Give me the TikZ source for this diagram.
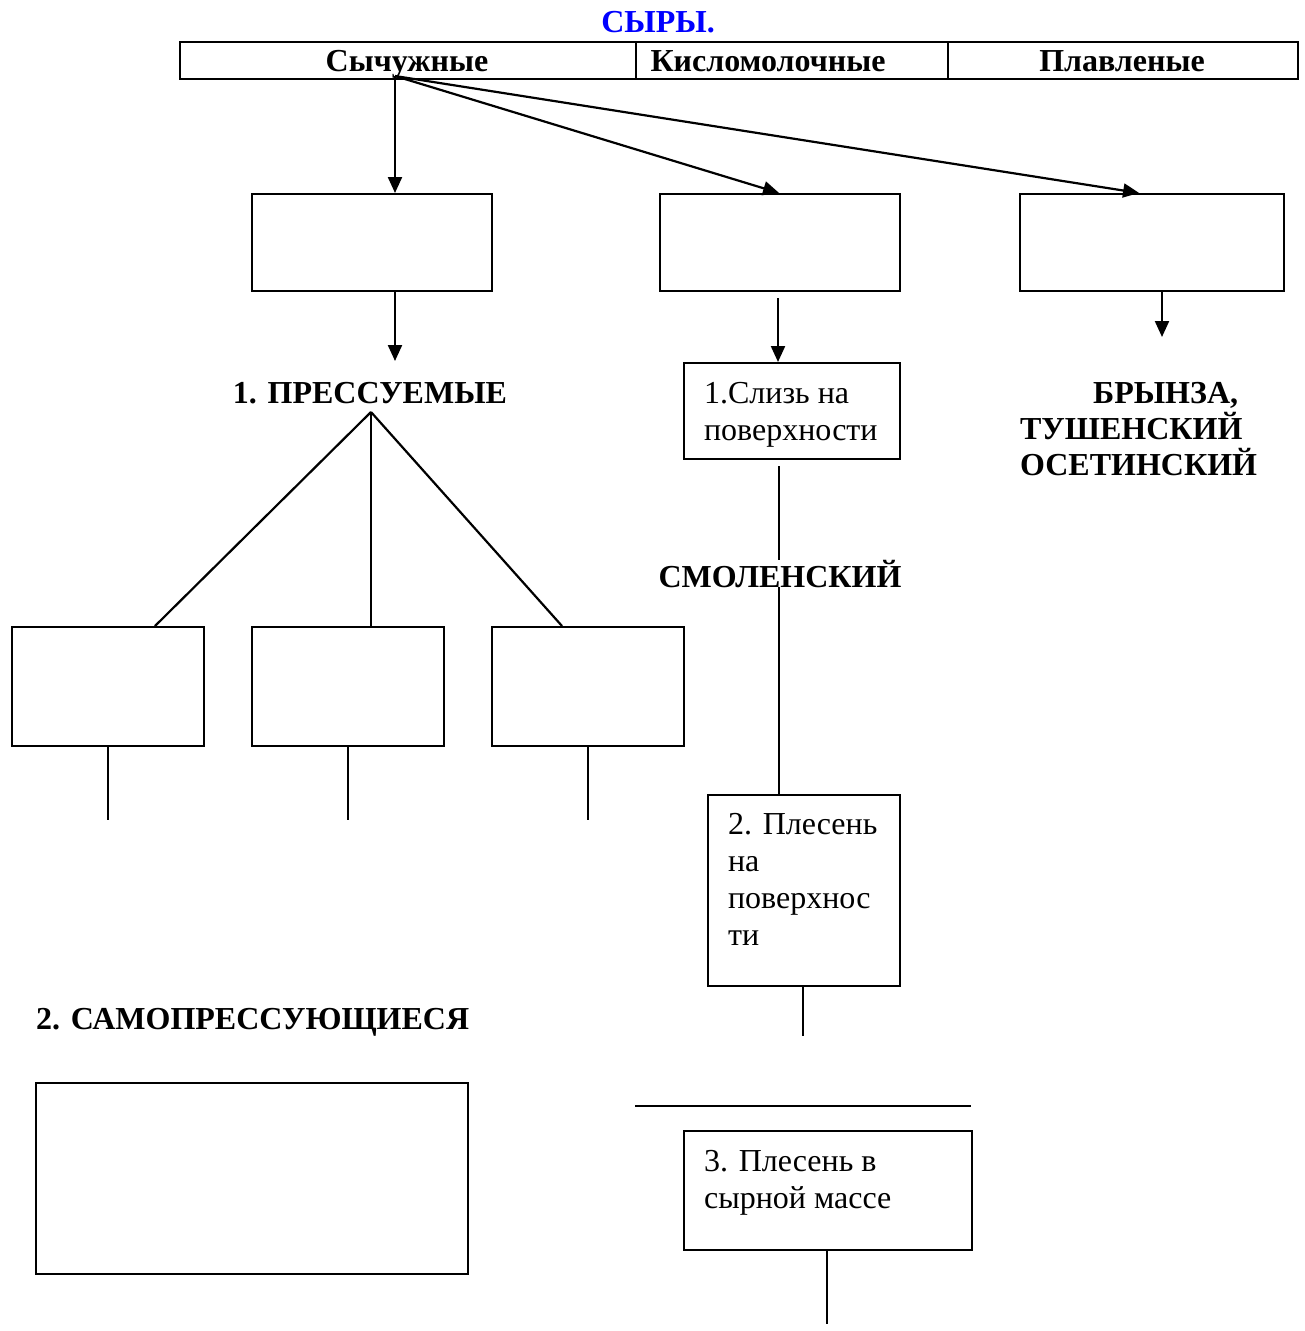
\documentclass[tikz,border=0pt]{standalone}
\usepackage{fontspec}
\setmainfont{Liberation Serif}
\usetikzlibrary{arrows.meta}

\begin{document}
\begin{tikzpicture}[
        x=1pt, y=-1pt,
        line width=2.2pt,
        every node/.style={inner sep=0pt, font=\fontsize{32}{37}\selectfont},
        box/.style={draw, line width=2.2pt, anchor=north west},
        head/.style={font=\fontsize{32}{37}\selectfont\bfseries, anchor=base},
        bold/.style={font=\fontsize{32}{36}\selectfont\bfseries},
        txt/.style={anchor=base west, align=left},
        arr/.style={-{Triangle[length=16pt,width=14pt]}},
    ]
        \useasboundingbox (0,0) rectangle (1305,1331);

        % title and header row
        \node[bold, text=blue, anchor=base] (title) at (658,32) {СЫРЫ.};
        \node[box, minimum width=456, minimum height=37] (rennet) at (179,41) {};
        \node[box, minimum width=312, minimum height=37] (sour) at (635,41) {};
        \node[box, minimum width=350, minimum height=37] (melt) at (947,41) {};
        \node[head] (rennetT) at (407,71) {Сычужные};
        \node[head] (sourT) at (768,71) {Кисломолочные};
        \node[head] (meltT) at (1122,71) {Плавленые};

        % second row
        \node[box, minimum width=240, minimum height=97] (boxA) at (251,193) {};
        \node[box, minimum width=240, minimum height=97] (boxB) at (659,193) {};
        \node[box, minimum width=264, minimum height=97] (boxC) at (1019,193) {};

        \coordinate (fan) at (395,76);
        \draw[arr] (fan) -- (boxA.north -| fan);
        \draw[arr] (fan) -- ([xshift=-1pt]boxB.north);
        \draw[arr] (fan) -- ([xshift=-13pt]boxC.north);

        % pressed
        \node[bold, anchor=base] (pressed) at (370,403) {1. ПРЕССУЕМЫЕ};
        \coordinate (pressedEnd) at (395,361);
        \draw[arr] (boxA.south -| pressedEnd) -- (pressedEnd);

        \node[box, minimum width=192, minimum height=119] (sub1) at (11,626) {};
        \node[box, minimum width=192, minimum height=119] (sub2) at (251,626) {};
        \node[box, minimum width=192, minimum height=119] (sub3) at (491,626) {};
        \coordinate (top) at (371,412);
        \draw (top) -- (155,626);
        \draw (top) -- (sub2.north -| top);
        \draw (top) -- (562,626);
        \foreach \n in {sub1,sub2,sub3}
            \draw (\n.south) -- ++(0,73);

        \node[bold, anchor=base west] (self) at (35,1029) {2. САМОПРЕССУЮЩИЕСЯ};
        \node[box, minimum width=432, minimum height=191] (selfBox) at (35,1082) {};

        % mould and slime
        \node[box, minimum width=216, minimum height=96] (slime) at (683,362) {};
        \node[txt] (slimeT) at (703,440) {1.Слизь на\\поверхности};
        \draw[arr] (778,298) -- (slime.north -| 778,0);

        \node[box, minimum width=192, minimum height=191] (mould) at (707,794) {};
        \node[txt] (mouldT) at (727,945) {2. Плесень\\на\\поверхнос\\ти};
        \draw (779,466) -- (mould.north -| 779,0);
        \node[bold, anchor=base, fill=white] (smol) at (780,587) {СМОЛЕНСКИЙ};
        \draw (mould.south -| 803,0) -- ++(0,49);

        \coordinate (barL) at (635,1106);
        \coordinate (barR) at (971,1106);
        \draw (barL) -- (barR);
        \node[box, minimum width=288, minimum height=119] (inner) at (683,1130) {};
        \node[txt] (innerT) at (703,1208) {3. Плесень в\\сырной массе};
        \draw (inner.south -| 827,0) -- ++(0,73);

        % melted
        \coordinate (meltEnd) at (1162,337);
        \draw[arr] (boxC.south -| meltEnd) -- (meltEnd);
        \node[bold, anchor=base west, align=left] (brynza) at (1019,475)
            {\hspace*{73pt}БРЫНЗА,\\ТУШЕНСКИЙ\\ОСЕТИНСКИЙ};
    \end{tikzpicture}
\end{document}
